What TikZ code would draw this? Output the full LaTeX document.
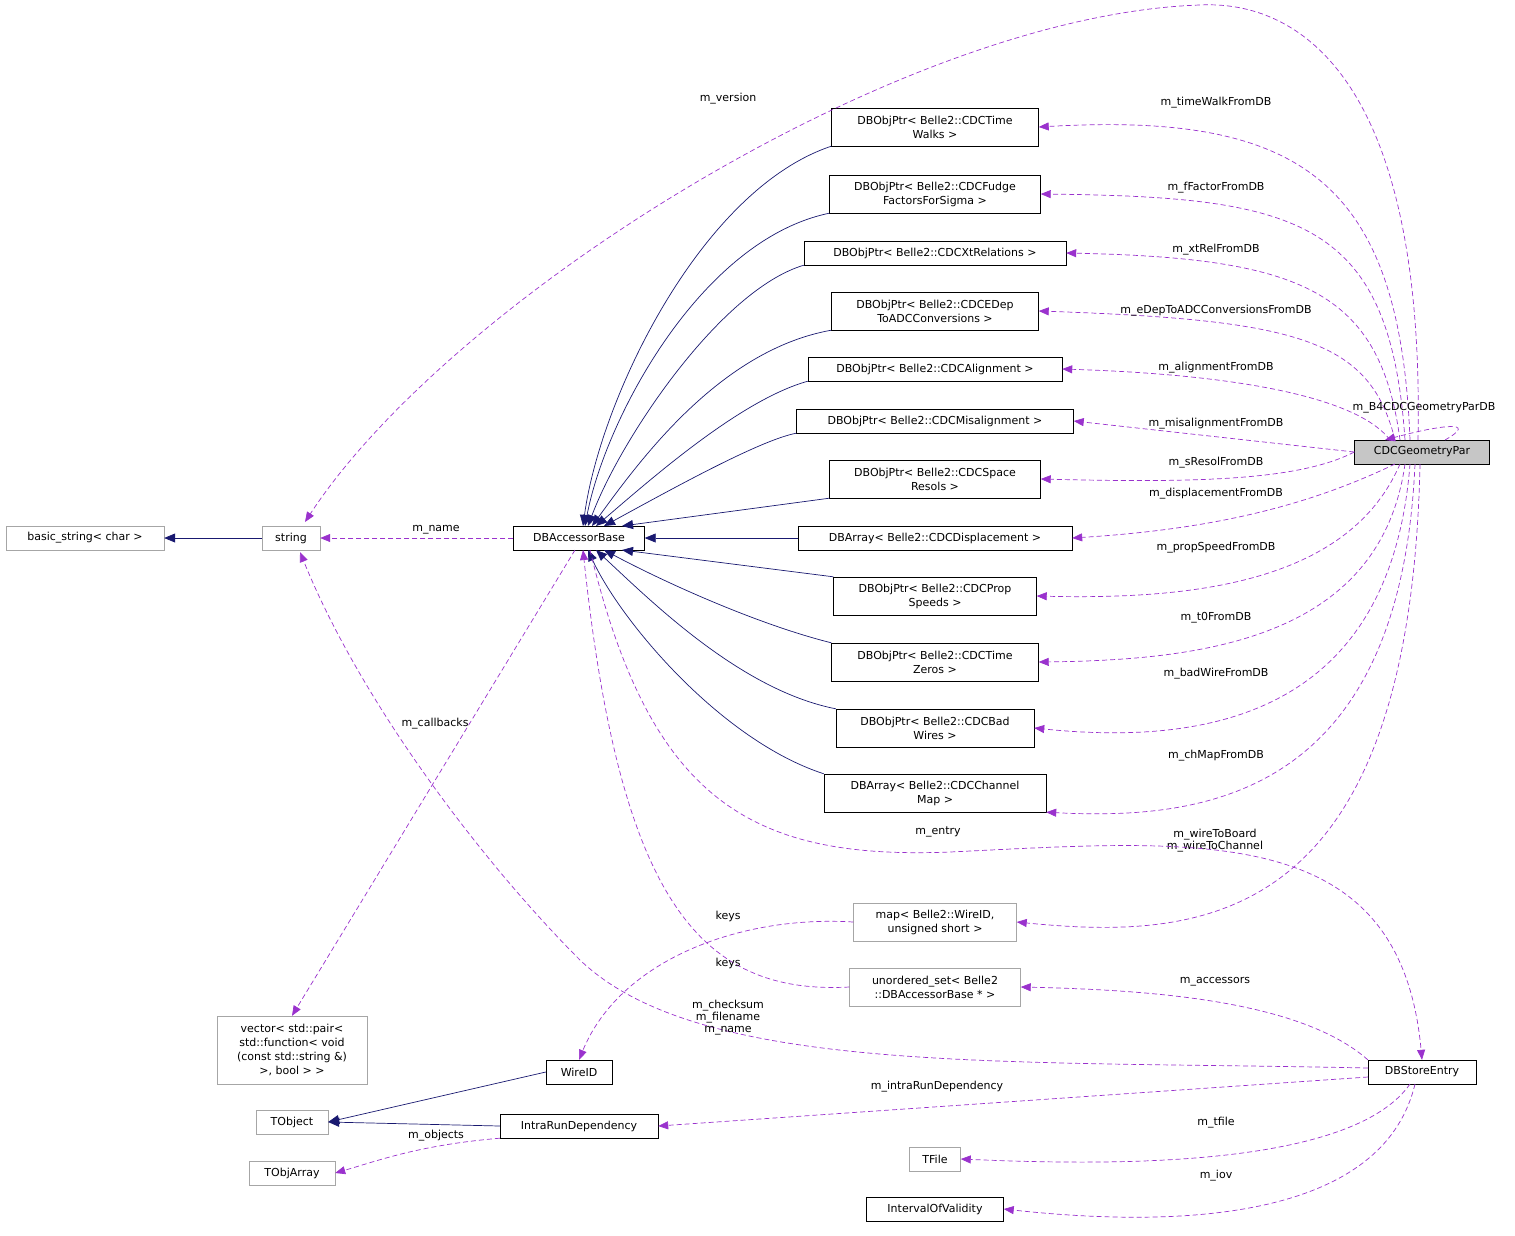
\documentclass[tikz,border=0pt]{standalone}
\usepackage{fontspec}
\setmainfont{DejaVu Sans}
\usetikzlibrary{arrows.meta}
\definecolor{pur}{HTML}{9A32CD}
\definecolor{nav}{HTML}{191970}
\begin{document}
\begin{tikzpicture}[x=1pt,y=-1pt,
 box/.style={draw=black,fill=white,inner sep=0pt,minimum height=24pt,align=center,font=\fontsize{11}{14}\selectfont},
 gbox/.style={box,draw=gray!70},
 dd/.style={box,minimum height=38pt},
 inh/.style={nav,-{Triangle[length=11pt,width=9pt,fill=nav]},line width=0.7pt},
 mem/.style={pur,dashed,dash pattern=on 5pt off 3pt,-{Triangle[length=10pt,width=8pt,fill=pur]},line width=0.7pt},
 lab/.style={font=\fontsize{11}{12}\selectfont,inner sep=1pt,align=center,text=black}]
\useasboundingbox (0,0) rectangle (1515,1235);
\node[box,fill=gray!45,minimum width=135pt] (geo) at (1422,452) {CDCGeometryPar};
\node[box,minimum width=131pt] (acc) at (579,538) {DBAccessorBase};
\node[gbox,minimum width=58pt] (str) at (291,538) {string};
\node[gbox,minimum width=158pt] (bs) at (85,538) {basic\_string< char >};
\node[dd,minimum width=207pt] (tw) at (935,127) {DBObjPtr< Belle2::CDCTime\\Walks >};
\node[dd,minimum width=211pt] (ff) at (935,194) {DBObjPtr< Belle2::CDCFudge\\FactorsForSigma >};
\node[box,minimum width=262pt] (xt) at (935,253) {DBObjPtr< Belle2::CDCXtRelations >};
\node[dd,minimum width=207pt] (ed) at (935,311) {DBObjPtr< Belle2::CDCEDep\\ToADCConversions >};
\node[box,minimum width=254pt] (al) at (935,369) {DBObjPtr< Belle2::CDCAlignment >};
\node[box,minimum width=277pt] (mi) at (935,421) {DBObjPtr< Belle2::CDCMisalignment >};
\node[dd,minimum width=211pt] (sr) at (935,479) {DBObjPtr< Belle2::CDCSpace\\Resols >};
\node[box,minimum width=274pt] (di) at (935,538) {DBArray< Belle2::CDCDisplacement >};
\node[dd,minimum width=203pt] (ps) at (935,596) {DBObjPtr< Belle2::CDCProp\\Speeds >};
\node[dd,minimum width=207pt] (tz) at (935,662) {DBObjPtr< Belle2::CDCTime\\Zeros >};
\node[dd,minimum width=198pt] (bw) at (935,728) {DBObjPtr< Belle2::CDCBad\\Wires >};
\node[dd,minimum width=222pt] (cm) at (935,793) {DBArray< Belle2::CDCChannel\\Map >};
\node[gbox,minimum height=38pt,minimum width=163pt] (map) at (935,922) {map< Belle2::WireID,\\unsigned short >};
\node[gbox,minimum height=38pt,minimum width=171pt] (us) at (935,987) {unordered\_set< Belle2\\::DBAccessorBase * >};
\node[box,minimum width=108pt] (dbs) at (1422,1072) {DBStoreEntry};
\node[gbox,minimum height=68pt,minimum width=150pt] (vec) at (292,1050) {vector< std::pair<\\ std::function< void\\ (const std::string \&)\\ >, bool > >};
\node[box,minimum width=66pt] (wid) at (579,1072) {WireID};
\node[gbox,minimum width=72pt] (tob) at (292,1122) {TObject};
\node[box,minimum width=158pt] (ird) at (579,1126) {IntraRunDependency};
\node[gbox,minimum width=86pt] (toa) at (292,1173) {TObjArray};
\node[gbox,minimum width=51pt] (tf) at (935,1159) {TFile};
\node[box,minimum width=137pt] (iov) at (935,1209) {IntervalOfValidity};
% inheritance
\draw[inh] (str) -- (bs);
\draw[inh] (wid.west) -- (tob.east);
\draw[inh] (ird.west) -- (tob.east);
\draw[inh] (tw.south west) .. controls (700,190) and (600,400) .. (583,526);
\draw[inh] (ff.south west) .. controls (700,240) and (605,420) .. (585,526);
\draw[inh] (xt.south west) .. controls (720,290) and (620,440) .. (588,526);
\draw[inh] (ed.south west) .. controls (720,350) and (640,460) .. (592,526);
\draw[inh] (al.south west) .. controls (740,400) and (650,480) .. (596,526);
\draw[inh] (mi.south west) .. controls (760,440) and (670,490) .. (604,526);
\draw[inh] (sr.south west) -- (622,526);
\draw[inh] (di) -- (acc);
\draw[inh] (ps.north west) -- (622,550);
\draw[inh] (tz.north west) .. controls (760,625) and (670,585) .. (604,550);
\draw[inh] (bw.north west) .. controls (740,690) and (650,600) .. (596,550);
\draw[inh] (cm.north west) .. controls (720,740) and (620,620) .. (588,550);
% members from geo
\draw[mem] (1410,440) .. controls (1400,180) and (1300,112) .. (tw.east);
\draw[mem] (1405,440) .. controls (1390,220) and (1300,197) .. (ff.east);
\draw[mem] (1400,440) .. controls (1380,290) and (1300,258) .. (xt.east);
\draw[mem] (1395,440) .. controls (1370,340) and (1300,320) .. (ed.east);
\draw[mem] (1390,440) .. controls (1360,400) and (1250,375) .. (al.east);
\draw[mem] (geo.west) -- (mi.east);
\draw[mem] (geo.west) .. controls (1300,480) and (1200,483) .. (sr.east);
\draw[mem] (1395,464) .. controls (1300,510) and (1200,530) .. (di.east);
\draw[mem] (1400,464) .. controls (1350,580) and (1200,600) .. (ps.east);
\draw[mem] (1405,464) .. controls (1380,640) and (1200,660) .. (tz.east);
\draw[mem] (1410,464) .. controls (1390,720) and (1200,745) .. (bw.east);
\draw[mem] (1415,464) .. controls (1400,800) and (1200,820) .. (cm.south east);
\draw[mem] (1420,464) .. controls (1410,930) and (1200,940) .. (map.east);
\draw[mem] (1445,440) .. controls (1480,420) and (1440,425) .. (1385,440);
\draw[mem] (1418,440) .. controls (1425,80) and (1300,0) .. (1200,5) .. controls (900,15) and (450,300) .. (305,522);
\node[lab] at (1216,103) {m\_timeWalkFromDB};
\node[lab] at (1216,188) {m\_fFactorFromDB};
\node[lab] at (1216,250) {m\_xtRelFromDB};
\node[lab] at (1216,311) {m\_eDepToADCConversionsFromDB};
\node[lab] at (1216,368) {m\_alignmentFromDB};
\node[lab] at (1216,424) {m\_misalignmentFromDB};
\node[lab] at (1216,463) {m\_sResolFromDB};
\node[lab] at (1216,494) {m\_displacementFromDB};
\node[lab] at (1216,548) {m\_propSpeedFromDB};
\node[lab] at (1216,618) {m\_t0FromDB};
\node[lab] at (1216,674) {m\_badWireFromDB};
\node[lab] at (1216,756) {m\_chMapFromDB};
\node[lab] at (1215,841) {m\_wireToBoard\\m\_wireToChannel};
\node[lab] at (1424,408) {m\_B4CDCGeometryParDB};
\node[lab] at (728,99) {m\_version};
% others
\draw[mem] (acc) -- (str);
\draw[mem] (590,550) .. controls (650,800) and (750,860) .. (950,852) .. controls (1200,840) and (1400,820) .. (dbs.north);
\draw[mem] (575,550) -- (vec.north);
\draw[mem] (map.west) .. controls (740,915) and (620,960) .. (wid.north);
\draw[mem] (us.west) .. controls (700,995) and (620,900) .. (583,550);
\draw[mem] (dbs.north west) .. controls (1300,1000) and (1150,990) .. (us.east);
\draw[mem] (1368,1068) .. controls (1000,1060) and (700,1075) .. (580,960) .. controls (480,860) and (360,700) .. (300,552);
\draw[mem] (1368,1077) -- (ird.east);
\draw[mem] (ird.south west) .. controls (420,1145) and (380,1160) .. (toa.east);
\draw[mem] (1410,1084) .. controls (1350,1170) and (1100,1165) .. (tf.east);
\draw[mem] (1415,1084) .. controls (1380,1230) and (1150,1225) .. (iov.east);
\node[lab] at (436,530) {m\_name};
\node[lab] at (938,832) {m\_entry};
\node[lab] at (435,724) {m\_callbacks};
\node[lab] at (728,916) {keys};
\node[lab] at (728,963) {keys};
\node[lab] at (1215,982) {m\_accessors};
\node[lab] at (728,1018) {m\_checksum\\m\_filename\\m\_name};
\node[lab] at (937,1087) {m\_intraRunDependency};
\node[lab] at (436,1136) {m\_objects};
\node[lab] at (1216,1123) {m\_tfile};
\node[lab] at (1216,1176) {m\_iov};
\end{tikzpicture}
\end{document}
